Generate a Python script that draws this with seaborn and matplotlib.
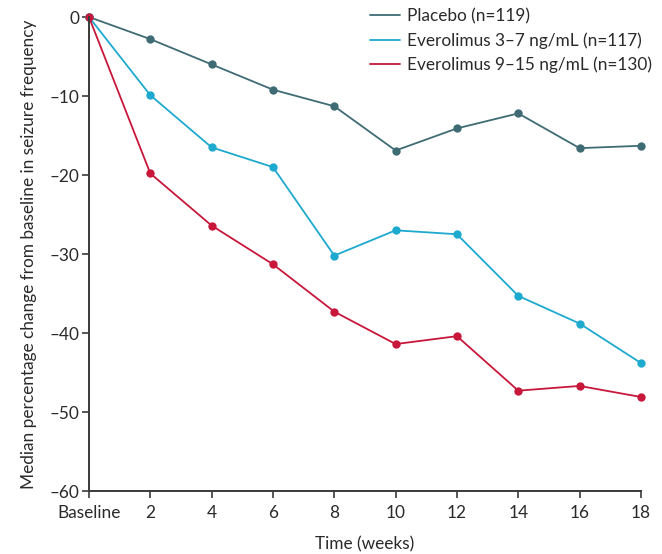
import matplotlib
matplotlib.use("Agg")
import matplotlib.pyplot as plt
import seaborn as sns
import pandas as pd
from matplotlib.lines import Line2D

weeks = [0, 2, 4, 6, 8, 10, 12, 14, 16, 18]
tick_labels = ["Baseline", "2", "4", "6", "8", "10", "12", "14", "16", "18"]
placebo = [0, -2.8, -6.0, -9.2, -11.3, -16.9, -14.1, -12.2, -16.6, -16.3]
evero_low = [0, -9.9, -16.5, -19.0, -30.2, -27.0, -27.5, -35.3, -38.8, -43.8]
evero_high = [0, -19.8, -26.4, -31.3, -37.3, -41.4, -40.4, -47.3, -46.7, -48.1]
series_names = ["Placebo (n=119)", "Everolimus 3–7 ng/mL (n=117)", "Everolimus 9–15 ng/mL (n=130)"]
colors = ["#3e6b74", "#1ea9cf", "#c8173a"]

sns.set_style("ticks")
plt.rcParams['font.family'] = ['Lato', 'DejaVu Sans']

rows = []
for name, vals in zip(series_names, [placebo, evero_low, evero_high]):
    for w, v in zip(weeks, vals):
        rows.append({"week": w, "value": v, "group": name})
df = pd.DataFrame(rows)

fs = 12.4
fig = plt.figure(figsize=(6.62, 5.54), dpi=100)
ax = fig.add_axes([0.1344, 0.1137, 0.8338, 0.8556])
palette = dict(zip(series_names, colors))
sns.lineplot(data=df, x="week", y="value", hue="group", hue_order=series_names,
             palette=palette, marker="o", markersize=6, markeredgewidth=0,
             linewidth=1.3, legend=False, ax=ax)
for l in ax.lines:
    l.set_clip_on(False)

ax.set_xlim(0, 18)
ax.set_ylim(-60, 0)
ax.set_xticks(weeks)
ax.set_xticklabels(tick_labels)
ax.set_yticks([0, -10, -20, -30, -40, -50, -60])
ax.set_yticklabels(["0", "–10", "–20", "–30", "–40", "–50", "–60"])
for s in ["top", "right"]:
    ax.spines[s].set_visible(False)
for s in ["left", "bottom"]:
    ax.spines[s].set_color("#3a3a3a")
    ax.spines[s].set_linewidth(1.4)
ax.tick_params(axis="both", direction="out", length=5, width=1.2, color="#3a3a3a",
               labelsize=fs, labelcolor="#2a2a2a")
ax.tick_params(axis="x", pad=5)
ax.tick_params(axis="y", pad=2)
ax.set_xlabel("Time (weeks)", fontsize=fs, color="#2a2a2a", labelpad=11)
ax.set_ylabel("Median percentage change from baseline in seizure frequency",
              fontsize=fs, color="#2a2a2a", labelpad=9)

handles = [Line2D([0], [0], color=c, linewidth=1.3) for c in colors]
leg = ax.legend(handles, series_names, loc="upper left",
                bbox_to_anchor=(370 / 662, 1 - 8 / 554), bbox_transform=fig.transFigure,
                frameon=False, fontsize=fs, handlelength=1.75, handletextpad=0.4,
                labelspacing=0.47, borderaxespad=0, borderpad=0)
for t in leg.get_texts():
    t.set_color("#2a2a2a")

fig.savefig("out.png", dpi=100)
